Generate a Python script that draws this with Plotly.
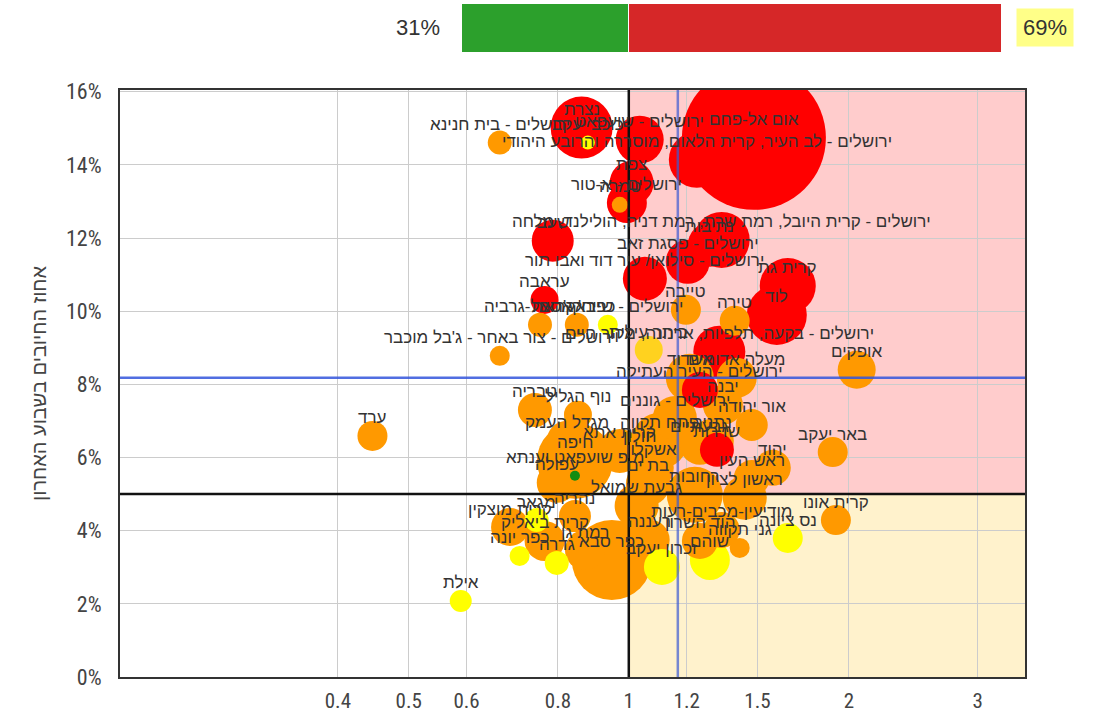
import math
import plotly.graph_objects as go

# ---------------- data ----------------
labels = [
    "נצרת", "ירושלים - בית חנינא", "כוכב יעקב", "ירושלים - שועפאט", "אום אל-פחם",
    "ירושלים - לב העיר, קרית הלאום, מוסררה והרובע היהודי", "צפת", "ירושלים - א-טור", "טמרה", "שעב",
    "ירושלים - קרית היובל, רמת שרת, רמת דניה, הולילנד, מלחה", "נתיבות", "ירושלים - פסגת זאב",
    "ירושלים - סילואן/ עיר דוד ואבו תור", "קרית גת", "לוד", "טירה", "טייבה", "עראבה", "באקה אל-גרביה",
    "כפר קאסם", "ירושלים - שייח' ג'ראח", "ירושלים - צור באחר - ג'בל מוכבר",
    "ירושלים - בקעה, תלפיות, ארנונה, מקור חיים", "ביתר עילית", "מעלה אדומים", "אשדוד",
    "ירושלים - העיר העתיקה", "יבנה", "ירושלים - גוננים", "אור יהודה", "טבריה", "נוף הגליל",
    "פתח תקווה", "מגדל העמק", "קרית אתא", "חיפה", "נתניה", "שדרות", "גבעתיים", "יהוד", "ראש העין",
    "ראשון לציון", "אשקלון", "חולון", "בת ים", "גבעת שמואל", "מ.פ שועפאט וענתא", "עפולה",
    "קרית מוצקין", "נהריה", "מגאר", "קרית ביאליק", "רמת גן", "כפר יונה", "גדרה", "כפר סבא",
    "מודיעין-מכבים-רעות", "הוד השרון", "רעננה", "נס ציונה", "שוהם", "זכרון יעקב", "גני תקווה",
    "קרית אונו", "באר יעקב", "אופקים", "ערד", "אילת", "רחובות",
]
ratio = [
    0.862, 0.666, 0.879, 1.035, 1.483,
    1.239, 1.009, 0.994, 0.972, 0.787,
    1.340, 1.291, 1.204,
    1.052, 1.650, 1.594, 1.396, 1.197, 0.767, 0.756,
    0.849, 0.936, 0.666,
    1.330, 1.065, 1.405, 1.212,
    1.251, 1.345, 1.156, 1.473, 0.744, 0.852,
    1.103, 0.823, 0.972, 0.844, 1.299, 1.320, 1.251, 1.574, 1.473,
    1.441, 1.075, 1.035, 1.062, 1.025, 0.844, 0.797,
    0.688, 0.844, 0.748, 0.767, 0.871, 0.709, 0.797, 0.948,
    1.340, 1.251, 1.068, 1.650, 1.291, 1.110, 1.418,
    1.920, 1.901, 2.050, 0.446, 0.589, 1.231,
]
positive_pct = [
    15.02, 14.61, 14.61, 14.69, 14.74,
    14.14, 13.51, 12.96, 12.91, 11.93,
    11.95, 11.82, 11.35,
    10.89, 10.69, 9.90, 9.74, 10.04, 10.31, 9.63,
    9.63, 9.63, 8.78,
    8.89, 8.94, 8.18, 8.18,
    7.85, 7.44, 7.08, 6.89, 7.30, 7.17,
    6.46, 6.46, 6.18, 5.91, 6.46, 6.21, 6.35, 5.72, 5.44,
    4.90, 5.72, 6.07, 5.28, 4.68, 5.50, 5.31,
    4.10, 4.40, 4.29, 3.72, 3.47, 3.31, 3.12, 3.20,
    4.02, 3.72, 3.75, 3.80, 3.20, 3.01, 3.53,
    4.29, 6.15, 8.40, 6.59, 2.08, 4.98,
]
cases = [
    961, 144, 49, 576, 5184,
    784, 484, 400, 64, 441,
    784, 484, 484,
    484, 784, 900, 225, 225, 196, 144,
    144, 100, 100,
    676, 196, 400, 576,
    324, 400, 484, 256, 289, 196,
    784, 400, 484, 1444, 484, 289, 400, 324, 324,
    484, 484, 400, 484, 484, 25, 400,
    361, 256, 144, 400, 400, 100, 144, 1600,
    324, 324, 400, 225, 400, 324, 100,
    225, 225, 361, 225, 121, 784,
]
level = [
    "red", "orange", "yellow", "red", "red",
    "red", "red", "red", "orange", "red",
    "red", "red", "red",
    "red", "red", "red", "orange", "orange", "red", "orange",
    "orange", "yellow", "orange",
    "red", "gold", "orange", "orange",
    "red", "orange", "orange", "orange", "orange", "orange",
    "orange", "orange", "orange", "orange", "orange", "red", "orange", "orange", "orange",
    "orange", "orange", "orange", "orange", "orange", "green", "orange",
    "orange", "orange", "yellow", "orange", "orange", "yellow", "yellow", "orange",
    "orange", "orange", "orange", "yellow", "yellow", "yellow", "orange",
    "orange", "orange", "orange", "orange", "yellow", "orange",
]

x_tick_vals = [0.4, 0.5, 0.6, 0.8, 1, 1.2, 1.5, 2, 3]
y_tick_vals = [0, 2, 4, 6, 8, 10, 12, 14, 16]
threshold_ratio = 1.0
threshold_pct = 5.0
mean_ratio = 1.167
mean_pct = 8.18
share_values = [31, 69]
share_labels = ["31%", "69%"]
y_title = "אחוז החיובים בשבוע האחרון"

# ---------------- style ----------------
color_map = {"red": "#ff0000", "orange": "#ff9900", "yellow": "#ffff00",
             "gold": "#ffd21f", "green": "#118c11"}
FONT = "Arial, Liberation Sans, sans-serif"
TICK_FONT = "Liberation Sans Narrow, Arial Narrow, Roboto Condensed, Arial, sans-serif"
X_LOG_RANGE = [-0.696, 0.542]
Y_RANGE = [0, 16.05]
x_lo, x_hi = 10 ** X_LOG_RANGE[0], 10 ** X_LOG_RANGE[1]

order = sorted(range(len(labels)), key=lambda i: -cases[i])

fig = go.Figure()
fig.add_trace(go.Scatter(
    x=[ratio[i] for i in order],
    y=[positive_pct[i] for i in order],
    mode="markers",
    marker=dict(size=[cases[i] for i in order], sizemode="area", sizeref=0.5,
                color=[color_map[level[i]] for i in order], opacity=1,
                line=dict(width=0)),
    text=[labels[i] for i in order],
    hoverinfo="text",
    showlegend=False,
))

# top share bar
bar_colors = ["#2ca02c", "#d62728"]
for v, c in zip(share_values, bar_colors):
    fig.add_trace(go.Bar(x=[v], y=[0], orientation="h", width=1,
                         marker=dict(color=c, line=dict(color="white", width=1.5)),
                         xaxis="x2", yaxis="y2", showlegend=False, hoverinfo="skip"))

annotations = []
for i in range(len(labels)):
    annotations.append(dict(
        x=math.log10(ratio[i]), y=positive_pct[i], xref="x", yref="y",
        text=labels[i], showarrow=False, yshift=18,
        font=dict(family=FONT, size=17, color="#333333"),
        xanchor="center", yanchor="middle"))

annotations.append(dict(x=0.329, y=0.963, xref="paper", yref="paper", text=share_labels[0],
                        showarrow=False, xanchor="center", yanchor="middle",
                        font=dict(family=FONT, size=22, color="#333333")))
annotations.append(dict(x=1.022, y=0.963, xref="paper", yref="paper", text=share_labels[1],
                        showarrow=False, xanchor="center", yanchor="middle",
                        font=dict(family=FONT, size=22, color="#333333"),
                        bgcolor="#ffff88", borderpad=6))

shapes = [
    dict(type="rect", xref="x", yref="y", x0=threshold_ratio, x1=x_hi, y0=threshold_pct, y1=Y_RANGE[1],
         fillcolor="#ffcccc", line=dict(width=0), layer="below"),
    dict(type="rect", xref="x", yref="y", x0=threshold_ratio, x1=x_hi, y0=Y_RANGE[0], y1=threshold_pct,
         fillcolor="#fff2cc", line=dict(width=0), layer="below"),
    dict(type="line", xref="x", yref="y", x0=threshold_ratio, x1=threshold_ratio, y0=Y_RANGE[0], y1=Y_RANGE[1],
         line=dict(color="#111111", width=2.5), layer="above"),
    dict(type="line", xref="x", yref="y", x0=x_lo, x1=x_hi, y0=threshold_pct, y1=threshold_pct,
         line=dict(color="#111111", width=2.5), layer="above"),
    dict(type="line", xref="x", yref="y", x0=mean_ratio, x1=mean_ratio, y0=Y_RANGE[0], y1=Y_RANGE[1],
         line=dict(color="rgba(60,90,210,0.7)", width=2.5), layer="above"),
    dict(type="line", xref="x", yref="y", x0=x_lo, x1=x_hi, y0=mean_pct, y1=mean_pct,
         line=dict(color="rgba(50,85,220,0.85)", width=2.5), layer="above"),
]

fig.update_layout(
    width=1101, height=717, autosize=False,
    margin=dict(l=120, r=76, t=3, b=40, pad=0, autoexpand=False),
    paper_bgcolor="white", plot_bgcolor="white",
    font=dict(family=FONT, color="#444444"),
    barmode="stack",
    shapes=shapes,
    annotations=annotations,
    xaxis=dict(type="log", range=X_LOG_RANGE, domain=[0, 1], automargin=False,
               tickvals=x_tick_vals, ticktext=[str(v) for v in x_tick_vals],
               showgrid=True, gridcolor="#cccccc", gridwidth=1,
               showline=True, linecolor="#333333", linewidth=2, mirror=True,
               zeroline=False, ticks="", ticklabelstandoff=4,
               tickfont=dict(family=TICK_FONT, size=21, color="#444444")),
    yaxis=dict(range=Y_RANGE, domain=[0, 0.871], automargin=False, tickvals=y_tick_vals,
               ticktext=[f"{v}%" for v in y_tick_vals],
               showgrid=True, gridcolor="#cccccc", gridwidth=1,
               showline=True, linecolor="#333333", linewidth=2, mirror=True,
               zeroline=False, ticks="", ticklabelstandoff=12,
               tickfont=dict(family=TICK_FONT, size=22, color="#444444"),
               title=dict(text=y_title, standoff=14,
                          font=dict(family=FONT, size=20, color="#444444"))),
    xaxis2=dict(domain=[0.3768, 0.9746], range=[0, 100], visible=False, anchor="y2",
                automargin=False),
    yaxis2=dict(domain=[0.926, 1.0], range=[-0.5, 0.5], visible=False, anchor="x2",
                automargin=False),
)

# pin the figure to the page's top-left corner (sync, and again once plotted)
page_fix = ("document.documentElement.style.margin='0';"
            "document.body.style.margin='0';"
            "document.body.style.overflow='hidden';"
            "var _d=document.getElementById('{plot_id}');"
            "if(_d){_d.style.position='absolute';_d.style.left='0px';_d.style.top='0px';}")
post = "})\n;" + page_fix + "\nPromise.resolve().then(function(){" + page_fix

fig.write_html("out.html", config={"displayModeBar": False, "responsive": False}, post_script=post)
